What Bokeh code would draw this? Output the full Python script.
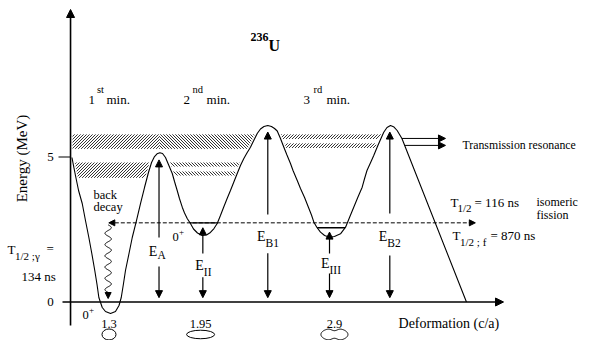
import numpy as np
from bokeh.plotting import figure
from bokeh.models import Range1d, Arrow, NormalHead, ColumnDataSource
from bokeh.embed import file_html
from bokeh.resources import INLINE
from bokeh.core.properties import value

# ---------------- data ----------------
# potential energy of 236U versus deformation (c/a); energy in MeV
curve_def = [1.037, 1.048, 1.062, 1.084, 1.110, 1.133, 1.157, 1.178, 1.199, 1.215,
             1.228, 1.252, 1.275, 1.311, 1.346, 1.371, 1.387, 1.403, 1.417, 1.442,
             1.465, 1.495, 1.524, 1.552, 1.580, 1.602, 1.623, 1.641, 1.661, 1.680,
             1.701, 1.722, 1.749, 1.765, 1.784, 1.800, 1.820, 1.836, 1.855, 1.878,
             1.900, 1.928, 1.961, 1.992, 2.020, 2.045, 2.068, 2.091, 2.113, 2.137,
             2.162, 2.186, 2.210, 2.233, 2.257, 2.279, 2.304, 2.329, 2.352, 2.375,
             2.400, 2.427, 2.453, 2.475, 2.494, 2.517, 2.541, 2.563, 2.588, 2.606,
             2.636, 2.659, 2.688, 2.716, 2.737, 2.754, 2.776, 2.801, 2.830, 2.865,
             2.900, 2.943, 2.979, 3.007, 3.037, 3.067, 3.097, 3.113, 3.131, 3.160,
             3.179, 3.203, 3.227, 3.250, 3.273, 3.298, 3.323, 3.345, 3.379, 3.837]
curve_energy = [4.983, 4.707, 4.362, 3.845, 3.397, 2.810, 2.224, 1.672, 1.086, 0.603,
                0.155, -0.190, -0.328, -0.397, -0.328, -0.121, 0.155, 0.638, 1.086, 1.672,
                2.224, 2.810, 3.397, 3.948, 4.466, 4.810, 5.017, 5.110, 5.145, 5.121,
                4.983, 4.741, 4.431, 4.155, 3.845, 3.569, 3.269, 3.069, 2.879, 2.707,
                2.517, 2.379, 2.293, 2.310, 2.397, 2.534, 2.707, 2.983, 3.259, 3.552,
                3.845, 4.138, 4.431, 4.707, 4.948, 5.138, 5.338, 5.586, 5.810, 5.966,
                6.052, 6.086, 6.052, 5.983, 5.897, 5.638, 5.338, 5.069, 4.776, 4.534,
                4.190, 3.914, 3.603, 3.259, 3.000, 2.752, 2.569, 2.407, 2.293, 2.234,
                2.259, 2.352, 2.579, 2.914, 3.269, 3.621, 3.959, 4.241, 4.534, 4.845,
                5.052, 5.338, 5.603, 5.855, 6.017, 6.086, 6.034, 5.914, 5.638, 0.000]

energy_ticks = [0, 5]
energy_tick_labels = ["0", "5"]
deform_ticks = [1.3, 1.95, 2.9]
deform_tick_labels = ["1.3", "1.95", "2.9"]
minimum_labels = [("1", "st"), ("2", "nd"), ("3", "rd")]
minimum_def = [1.1545, 1.829, 2.680]

isomer_level = 2.73        # 0+ shape-isomer level in 2nd minimum (MeV)
third_level = 2.56         # level in 3rd minimum (MeV)
resonance_levels = [5.64, 5.40]

# barrier / well heights (double arrows)
arrow_sub = ["A", "II", "B1", "III", "B2"]
arrow_def = [1.655, 1.966, 2.427, 2.865, 3.293]
arrow_top = [4.90, 2.56, 5.86, 2.41, 5.86]
arrow_bottom = [0.15, 0.15, 0.15, 0.15, 0.15]
gap_top = [2.22, 1.67, 3.02, 1.67, 3.05]
gap_bottom = [1.22, 0.85, 1.68, 0.98, 1.60]
label_base = [1.60, 1.11, 2.10, 1.20, 2.10]

# hatched level-density bands
band_pattern = ["/", "\\", "/", "/", "/", "\\", "\\"]
band_low = [5.28, 5.28, 5.62, 5.31, 4.28, 4.67, 4.36]
band_high = [5.78, 5.78, 5.78, 5.47, 4.81, 4.81, 4.50]
band_left = ["axis", "peakA", 4, 4, 0, 2, 2]
band_right = ["peakA", 3, 5, 5, 1, 3, 3]

# ---------------- figure ----------------
W, H = 579, 340
X_LO, X_HI = 0.52995, 4.63925
Y_LO, Y_HI = -1.3276, 10.3966
SX = W / (X_HI - X_LO)
SY = H / (Y_HI - Y_LO)

p = figure(width=W, height=H, x_range=Range1d(X_LO, X_HI), y_range=Range1d(Y_LO, Y_HI),
           x_axis_type=None, y_axis_type=None, toolbar_location=None,
           output_backend="svg", min_border=0, outline_line_color=None)
p.grid.visible = False
p.background_fill_color = "white"
p.border_fill_color = "white"

FONT = value("Liberation Serif, Times New Roman, serif")


def label(x, y, s, size, dx=0.0, dy=0.0, bold=False, align="left",
          baseline="alphabetic", angle=0.0):
    if baseline == "alphabetic":
        dy += 0.3 * size
    p.text(x=[x + dx / SX], y=[y + dy / SY], text=[s], text_font=FONT,
           text_font_size=value(f"{size}px"),
           text_font_style="bold" if bold else "normal",
           text_align=align, text_baseline=baseline, angle=angle,
           text_color="black")


cd = np.array(curve_def)
ce = np.array(curve_energy)
n = len(cd)
ext = [0] + [i for i in range(1, n - 1)
             if (ce[i] - ce[i - 1]) * (ce[i + 1] - ce[i]) < 0] + [n - 1]


def cross(level, k):
    i0, i1 = ext[k], ext[k + 1]
    xs, es = cd[i0:i1 + 1], ce[i0:i1 + 1]
    if es[-1] < es[0]:
        xs, es = xs[::-1], es[::-1]
    return float(np.interp(level, es, xs))


axis_def = 1.027
inset = 2.0 / SX
peakA = cd[ext[2]]


def bound(spec, level, side):
    if spec == "axis":
        return axis_def + inset
    if spec == "peakA":
        return peakA
    x = cross(level, spec)
    return x + inset if side == "left" else x - inset


# hatched bands, drawn as 45-degree line segments clipped to each band
GAP = 3.0
hx0, hy0, hx1, hy1 = [], [], [], []
for pat, lo, hi, lt, rt in zip(band_pattern, band_low, band_high, band_left, band_right):
    v0, v1 = (lo - Y_LO) * SY, (hi - Y_LO) * SY
    uL0, uL1 = (bound(lt, lo, "left") - X_LO) * SX, (bound(lt, hi, "left") - X_LO) * SX
    uR0, uR1 = (bound(rt, lo, "right") - X_LO) * SX, (bound(rt, hi, "right") - X_LO) * SX
    s = 1.0 if pat == "/" else -1.0
    cmin = min(uL0, uL1) - max(s * v0, s * v1) - GAP
    cmax = max(uR0, uR1) - min(s * v0, s * v1) + GAP
    for c in np.arange(np.floor(cmin / GAP) * GAP, cmax, GAP):
        t_lo, t_hi = 0.0, 1.0
        for a0, a1 in ((s * v0 + c - uL0, s * v1 + c - uL1),
                       (uR0 - s * v0 - c, uR1 - s * v1 - c)):
            if a0 < 0 and a1 < 0:
                t_lo, t_hi = 1.0, 0.0
                break
            if a0 >= 0 and a1 >= 0:
                continue
            tz = a0 / (a0 - a1)
            if a0 < 0:
                t_lo = max(t_lo, tz)
            else:
                t_hi = min(t_hi, tz)
        if t_hi - t_lo > 1e-6:
            va, vb = v0 + t_lo * (v1 - v0), v0 + t_hi * (v1 - v0)
            hx0.append(X_LO + (s * va + c) / SX)
            hy0.append(Y_LO + va / SY)
            hx1.append(X_LO + (s * vb + c) / SX)
            hy1.append(Y_LO + vb / SY)
p.segment(x0=hx0, y0=hy0, x1=hx1, y1=hy1, line_color="black", line_width=0.8)

# potential curve
p.line(curve_def, curve_energy, line_color="black", line_width=1.1)

# levels in 2nd and 3rd minimum
p.segment(x0=[cross(isomer_level, 2), cross(third_level, 4)],
          x1=[cross(isomer_level, 3), cross(third_level, 5)],
          y0=[isomer_level, third_level], y1=[isomer_level, third_level],
          line_color="black", line_width=1.3)

# axes
p.add_layout(Arrow(end=NormalHead(size=8, fill_color="black", line_color="black"),
                   x_start=axis_def, y_start=-0.81, x_end=axis_def, y_end=10.086,
                   line_width=1.6, line_color="black"))
p.add_layout(Arrow(end=NormalHead(size=8, fill_color="black", line_color="black"),
                   x_start=0.970, y_start=0, x_end=4.100, y_end=0,
                   line_width=1.6, line_color="black"))
p.segment(x0=[0.9416], x1=[axis_def], y0=[5], y1=[5], line_color="black", line_width=1.2)
for e, t in zip(energy_ticks, energy_tick_labels):
    label(0.885, e, t, 13, align="center", baseline="middle")

# deformation values and shapes
for d, t in zip(deform_ticks, deform_tick_labels):
    label(d, -0.880, t, 12.5, align="center")
shape_y = -1.12
p.ellipse(x=deform_ticks[:2], y=[shape_y, shape_y], width=[14 / SX, 28 / SX],
          height=[11 / SY, 8.5 / SY], fill_color=None, line_color="black", line_width=1)
tt = np.linspace(0, 2 * np.pi, 120)
px = deform_ticks[2] + (13.5 / SX) * np.cos(tt)
py = shape_y + (6.3 / SY) * np.sin(tt) * (1 - 0.4 * np.exp(-np.cos(tt) ** 2 / 0.1))
p.patch(px, py, fill_color=None, line_color="black", line_width=1)

# isomeric level (dashed double arrow)
p.add_layout(Arrow(start=NormalHead(size=6, fill_color="black", line_color="black"),
                   end=NormalHead(size=6, fill_color="black", line_color="black"),
                   x_start=1.2986, y_start=isomer_level, x_end=3.900, y_end=isomer_level,
                   line_dash="4 2", line_width=1, line_color="black"))

# back decay (wavy gamma arrow)
wig_d = 1.294
ws = np.linspace(0, 1, 200)
wy = 2.66 + (0.33 - 2.66) * ws
wx = wig_d + (3.2 / SX) * np.sin(2 * np.pi * 6 * ws)
p.line(wx, wy, line_color="black", line_width=1)
p.add_layout(Arrow(end=NormalHead(size=6, fill_color="black", line_color="black"),
                   x_start=wig_d, y_start=0.34, x_end=wig_d, y_end=0.12,
                   line_width=1, line_color="black"))

# transmission resonance arrows
for lev in resonance_levels:
    p.add_layout(Arrow(end=NormalHead(size=7, fill_color="black", line_color="black"),
                       x_start=cross(lev, 6), y_start=lev, x_end=3.688, y_end=lev,
                       line_width=1, line_color="black"))

# barrier / well double arrows
up = ColumnDataSource(dict(x0=arrow_def, y0=gap_top, x1=arrow_def, y1=arrow_top))
dn = ColumnDataSource(dict(x0=arrow_def, y0=gap_bottom, x1=arrow_def, y1=arrow_bottom))
for src in (up, dn):
    p.add_layout(Arrow(end=NormalHead(size=7, fill_color="black", line_color="black"),
                       x_start="x0", y_start="y0", x_end="x1", y_end="y1",
                       source=src, line_width=1.2, line_color="black"))
e_end = [-1.6, 1.0, -2.3, 0.0, -2.6]
sub_drop = [3.0, 5.5, 5.5, 6.0, 5.5]
for d, b, s, ex, sd in zip(arrow_def, label_base, arrow_sub, e_end, sub_drop):
    label(d, b, "E", 14, dx=ex, align="right")
    label(d, b, s, 11.5, dx=ex, dy=-sd)

# texts
label(2.304, 9.017, "236", 12, bold=True)
label(2.432, 8.672, "U", 16, bold=True)
sup_dx = [8.5, 9.0, 10.0]
min_dx = [18.0, 23.0, 23.0]
for d, (num, sup), sdx, mdx in zip(minimum_def, minimum_labels, sup_dx, min_dx):
    label(d, 6.845, num, 13)
    label(d, 6.845, sup, 10.5, dx=sdx, dy=10.5)
    label(d, 6.845, "min.", 13, dx=mdx)

label(1.190, 3.552, "back", 12.5)
label(1.190, 3.155, "decay", 12.5)
label(1.112, -0.569, "0", 12.5)
label(1.112, -0.569, "+", 9, dx=6.5, dy=6)
label(1.751, 2.121, "0", 12.5)
label(1.751, 2.121, "+", 9, dx=6.5, dy=6)

label(0.580, 1.672, "T", 13)
label(0.580, 1.672, "1/2 ;\u03b3", 11, dx=7.5, dy=-6)
label(0.580, 1.672, "=", 13, dx=39, dy=1)
label(0.679, 0.741, "134 ns", 13)

label(3.724, 3.310, "T", 13)
label(3.724, 3.310, "1/2", 11, dx=7, dy=-5.5)
label(3.724, 3.310, "= 116 ns", 13, dx=24)
label(4.334, 3.328, "isomeric", 12)
label(4.334, 2.879, "fission", 12)

label(3.738, 2.155, "T", 13)
label(3.738, 2.155, "1/2 ; f", 11, dx=7.5, dy=-6)
label(3.738, 2.155, "= 870 ns", 13, dx=38)

label(3.809, 5.303, "Transmission resonance", 11.8)
label(3.355, -0.869, "Deformation (c/a)", 14)
label(0.679, 4.948, "Energy (MeV)", 15, align="center", baseline="middle", angle=np.pi / 2)

open("out.html", "w").write(file_html(p, INLINE))
